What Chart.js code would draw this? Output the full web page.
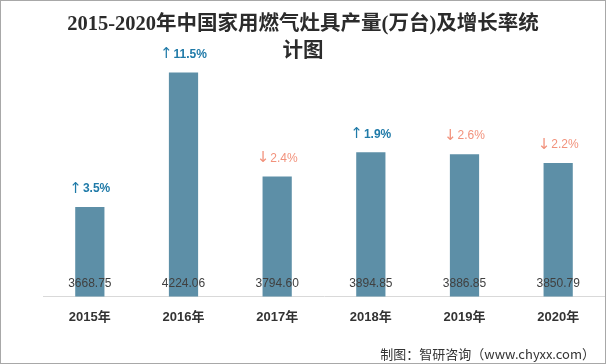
<!DOCTYPE html>
<html>
<head>
<meta charset="utf-8">
<script src="https://cdn.jsdelivr.net/npm/chart.js@4/dist/chart.umd.min.js"></script>
<style>
  html, body { margin: 0; padding: 0; background: #fff; }
  #wrap { position: relative; width: 606px; height: 364px; overflow: hidden; }
  #c { position: absolute; left: 0; top: 0; }
  #frame { position: absolute; left: 0; top: 0; width: 604px; height: 362px; border: 1px solid #a8a8a8; pointer-events: none; }
  #title { position: absolute; left: 0; width: 606px; top: 10px; text-align: center;
    font: bold 20.5px/27px 'Liberation Serif', 'Noto Sans CJK SC', serif; color: #2b2b2b; }
  #source { position: absolute; right: 11px; top: 344px; line-height: 18px;
    font: 13px 'Noto Sans CJK SC', sans-serif; color: #333; white-space: nowrap; }
</style>
</head>
<body>
<div id="wrap">
  <canvas id="c" width="606" height="364"></canvas>
  <div id="title">2015-2020年中国家用燃气灶具产量(万台)及增长率统<br>计图</div>
  <div id="source">制图：智研咨询（www.chyxx.com）</div>
  <div id="frame"></div>
</div>
<script>
const categories = ['2015年', '2016年', '2017年', '2018年', '2019年', '2020年'];
const production = [3668.75, 4224.06, 3794.60, 3894.85, 3886.85, 3850.79];
const growth = [3.5, 11.5, -2.4, 1.9, -2.6, -2.2];
const yMin = 3300;
const yMax = 4300;

const labelPlugin = {
  id: 'barLabels',
  afterDatasetsDraw(chart) {
    const ctx = chart.ctx;
    const meta = chart.getDatasetMeta(0);
    const base = chart.scales.y.getPixelForValue(yMin);
    ctx.save();
    ctx.textBaseline = 'middle';
    meta.data.forEach((bar, i) => {
      ctx.textAlign = 'center';
      ctx.font = "12px 'Liberation Sans', 'DejaVu Sans', sans-serif";
      ctx.fillStyle = '#404040';
      ctx.fillText(production[i].toFixed(2), bar.x, base - 13);
      const g = growth[i];
      const arrow = g >= 0 ? '↑' : '↓';
      const txt = Math.abs(g).toFixed(1) + '%';
      const arrowFont = "15px 'DejaVu Sans', sans-serif";
      const txtFont = (g >= 0 ? 'bold ' : '') + "12px 'Liberation Sans', sans-serif";
      ctx.fillStyle = g >= 0 ? '#1f7aa8' : '#f2927c';
      ctx.font = arrowFont;
      const aw = ctx.measureText(arrow).width;
      ctx.font = txtFont;
      const tw = ctx.measureText(txt).width;
      const total = aw + 1 + tw;
      const x0 = bar.x - total / 2;
      const y = bar.y - 18;
      ctx.textAlign = 'left';
      ctx.font = arrowFont;
      ctx.fillText(arrow, x0, y);
      ctx.font = txtFont;
      ctx.fillText(txt, x0 + aw + 1, y);
    });
    ctx.restore();
  }
};

new Chart(document.getElementById('c'), {
  type: 'bar',
  data: {
    labels: categories,
    datasets: [{
      data: production,
      backgroundColor: '#5d8fa7',
      borderWidth: 0,
      barPercentage: 0.312,
      categoryPercentage: 1
    }]
  },
  options: {
    responsive: false,
    animation: false,
    devicePixelRatio: 1,
    layout: { padding: { top: 54, left: 43, right: 1, bottom: 26 } },
    plugins: { legend: { display: false }, tooltip: { enabled: false }, title: { display: false } },
    scales: {
      x: {
        grid: { display: false, drawTicks: false },
        border: { display: true, color: '#d9d9d9', width: 1 },
        ticks: { color: '#333', padding: 13, font: { family: "'Liberation Sans', 'Noto Sans CJK SC', sans-serif", size: 13, weight: 'bold' } }
      },
      y: { display: false, min: yMin, max: yMax }
    }
  },
  plugins: [labelPlugin]
});
</script>
</body>
</html>
